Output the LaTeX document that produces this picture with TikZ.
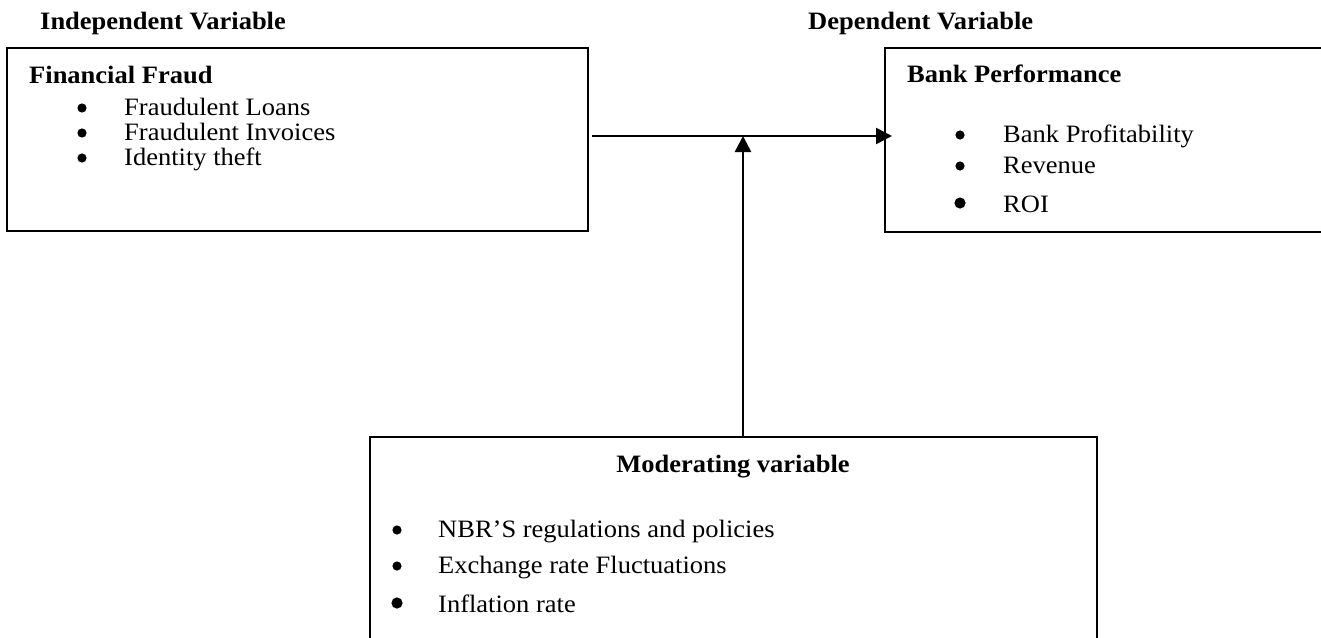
\documentclass[tikz,border=0pt]{standalone}
\usepackage{fontspec}
\setmainfont{Liberation Serif}[FakeStretch=1.06]
\usetikzlibrary{arrows.meta}
\tikzset{
  box/.style={draw, line width=2.6pt, inner sep=0pt, outer sep=0pt, anchor=north west},
  txt/.style={inner sep=0pt, anchor=base west, font=\fontsize{25}{29}\selectfont},
  head/.style={txt, font=\fontsize{25}{29}\selectfont\bfseries},
  conn/.style={line width=2.6pt, -{Triangle[length=16pt,width=16pt]}},
}
\begin{document}
\begin{tikzpicture}[x=1pt,y=-1pt]
\useasboundingbox (0,0) rectangle (1321,637);
% headings
\node[head] (hind) at (40,29) {Independent Variable};
\node[head] (hdep) at (808,29) {Dependent Variable};
% boxes
\node[box, minimum width=581pt, minimum height=183pt] (L) at (7,48) {};
\node[box, minimum width=460pt, minimum height=184pt] (R) at (885,48) {};
\node[box, minimum width=727pt, minimum height=230pt] (M) at (370,437) {};
% left box text
\node[head] (ff) at (29,83) {Financial Fraud};
\node[txt] (l1) at (124,115) {Fraudulent Loans};
\node[txt] (l2) at (124,140) {Fraudulent Invoices};
\node[txt] (l3) at (124,165) {Identity theft};
\fill (82,108) circle (4.6pt) (82,133) circle (4.6pt) (82,158) circle (4.6pt);
% right box text
\node[head] (bp) at (907,82) {Bank Performance};
\node[txt] (r1) at (1003,142) {Bank Profitability};
\node[txt] (r2) at (1003,173) {Revenue};
\node[txt] (r3) at (1003,212) {ROI};
\fill (960,135) circle (4.6pt) (960,166) circle (4.6pt) (960,203) circle (5.6pt);
% bottom box text
\node[head, anchor=base] (mv) at (733,472) {Moderating variable};
\node[txt] (m1) at (438,537) {NBR’S regulations and policies};
\node[txt] (m2) at (438,573) {Exchange rate Fluctuations};
\node[txt] (m3) at (438,612) {Inflation rate};
\fill (397,530) circle (4.6pt) (397,566) circle (4.6pt) (397,603) circle (5.6pt);
% connectors
\coordinate (hs) at (592,136);
\coordinate (he) at (892,136);
\coordinate (J) at (743,136);
\draw[conn] (hs) -- (he);
\draw[conn] (M.north -| J) -- (J);
\end{tikzpicture}
\end{document}
